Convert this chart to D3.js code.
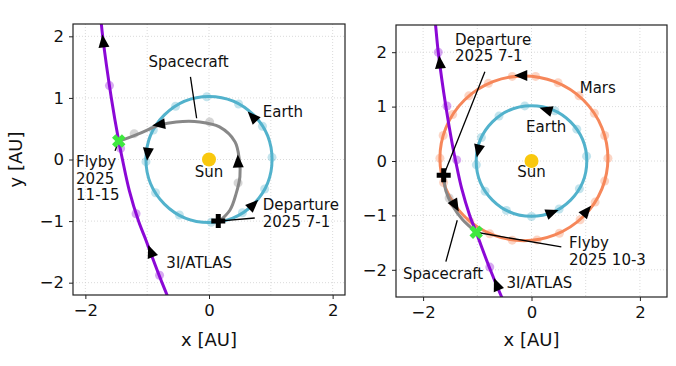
<html>
<head>
<meta charset="UTF-8">
<script src="https://d3js.org/d3.v7.min.js"></script>
<style>
  body { margin: 0; background: #fff; }
  text { font-family: "DejaVu Sans", sans-serif; }
</style>
</head>
<body></body>
<script>
// ---- data (AU) ----
var tickX = [-2, 0, 2];
var tickY = [-2, -1, 0, 1, 2];
var gridVals = [-2, -1, 0, 1, 2];

// 3I/ATLAS trajectory (same in both panels)
var atlasX = [-1.80, -1.77, -1.72, -1.58, -1.46, -1.40, -1.29, -1.14, -1.02, -0.95, -0.76, -0.55, -0.45];
var atlasY = [2.8, 2.5, 2.0, 1.0, 0.3, 0.0, -0.5, -1.0, -1.31, -1.5, -2.0, -2.5, -2.7];
var atlasDotsA = [[-1.61, 1.20], [-1.43, 0.18], [-1.18, -0.88], [-0.80, -1.88]];
var atlasDotsB = [[-1.72, 2.0], [-1.56, 1.01], [-1.38, 0.02], [-0.77, -1.95]];

// Earth orbit radius and monthly phase dots (deg)
var earthR = 1.02;
var earthPhaseA = [2, 32, 62, 92, 122, 152, 182, 212, 242, 272, 302, 332];
var earthPhaseB = [5, 35, 65, 97, 126, 155, 184, 213, 243, 270, 300, 330];

// Mars orbit (ellipse) and phase dots (deg)
var marsC = [-0.14, 0.05], marsR = [1.55, 1.52];
var marsPhase = [0, 16, 33, 49, 66, 82, 98, 115, 131, 148, 164, 180, 197, 213, 230, 246, 262, 279, 295, 312, 328, 344];

// spacecraft
var craftAX = [0.16, 0.34, 0.44, 0.50, 0.49, 0.42, 0.17, -0.15, -0.53, -0.80, -1.13, -1.45];
var craftAY = [-1.01, -0.82, -0.55, -0.28, 0.0, 0.29, 0.53, 0.61, 0.61, 0.56, 0.42, 0.30];
var craftDotsA = [[0.47, -0.38], [0.01, 0.61], [-1.21, 0.42]];
var craftBX = [-1.62, -1.58, -1.46, -1.27, -1.03];
var craftBY = [-0.27, -0.55, -0.82, -1.08, -1.30];
var craftDotsB = [[-1.52, -0.68]];

var departA = [0.15, -1.0], flybyA = [-1.46, 0.30];
var departB = [-1.62, -0.26], flybyB = [-1.02, -1.31];

// direction arrows: x, y, heading (deg)
var arrowsA = [[-1.71, 1.91, 97], [-0.94, -1.5, 111], [0.71, 0.69, 134], [-0.99, 0.10, 264],
               [0.71, -0.74, 44], [0.47, -0.04, 92], [-0.80, 0.57, 188]];
var arrowsB = [[-1.69, 1.80, 96], [-0.64, -2.28, 112], [-0.18, 1.57, 180], [1.01, -0.93, 50],
               [0.28, 0.94, 163], [-0.98, 0.20, 258], [0.37, -0.95, 21], [-1.41, -0.81, 300]];

// text labels: lines, x, y, anchor
var labelsA = [[["Spacecraft"], -0.33, 1.50, "middle"], [["Earth"], 0.87, 0.69, "start"],
               [["Sun"], 0, -0.28, "middle"], [["Departure", "2025 7-1"], 0.87, -0.82, "start"],
               [["Flyby", "2025", "11-15"], -2.15, -0.12, "start"], [["3I/ATLAS"], -0.69, -1.76, "start"]];
var labelsB = [[["Departure", "2025 7-1"], -1.41, 2.14, "start"], [["Mars"], 0.89, 1.25, "start"],
               [["Earth"], -0.10, 0.54, "start"], [["Sun"], 0, -0.29, "middle"],
               [["Flyby", "2025 10-3"], 0.69, -1.60, "start"], [["Spacecraft"], -2.37, -2.16, "start"],
               [["3I/ATLAS"], -0.46, -2.33, "start"]];
// leader lines x1,y1,x2,y2
var leadersA = [[-0.30, 1.34, -0.20, 0.67], [0.74, -0.95, 0.15, -1.0], [-1.49, 0.22, -1.52, 0.14]];
var leadersB = [[-0.86, 1.64, -1.62, -0.26], [0.55, -1.58, -1.02, -1.31], [-1.58, -1.85, -1.37, -1.09]];

var C = { earth: "#52b2cc", mars: "#f6875a", atlas: "#8b08d6", craft: "#888888",
          sun: "#f9c80e", flyby: "#3fe83f" };

var svg = d3.select("body").append("svg").attr("width", 676).attr("height", 366);

function panel(id, box, lim, opt) {
  var x = d3.scaleLinear().domain([-lim, lim]).range([box.left, box.left + box.w]);
  var y = d3.scaleLinear().domain([-lim, lim]).range([box.top + box.h, box.top]);
  var g = svg.append("g");

  svg.append("clipPath").attr("id", id)
    .append("rect").attr("x", box.left).attr("y", box.top).attr("width", box.w).attr("height", box.h);

  // grid
  var grid = g.append("g").attr("stroke", "#d0d0d0").attr("stroke-width", 0.8).attr("stroke-dasharray", "1,2");
  grid.selectAll(".gx").data(gridVals).enter().append("line")
    .attr("x1", d => x(d)).attr("x2", d => x(d)).attr("y1", box.top).attr("y2", box.top + box.h);
  grid.selectAll(".gy").data(gridVals).enter().append("line")
    .attr("y1", d => y(d)).attr("y2", d => y(d)).attr("x1", box.left).attr("x2", box.left + box.w);

  var plot = g.append("g").attr("clip-path", "url(#" + id + ")");
  var line = d3.line().x(d => x(d[0])).y(d => y(d[1])).curve(d3.curveCatmullRom);

  // orbits
  plot.append("circle").attr("cx", x(0)).attr("cy", y(0)).attr("r", x(earthR) - x(0))
    .attr("fill", "none").attr("stroke", C.earth).attr("stroke-width", 3);
  plot.selectAll(".ed").data(opt.earthPhase).enter().append("circle")
    .attr("cx", d => x(earthR * Math.cos(d * Math.PI / 180)))
    .attr("cy", d => y(earthR * Math.sin(d * Math.PI / 180)))
    .attr("r", 4.5).attr("fill", C.earth).attr("opacity", 0.35);

  if (opt.mars) {
    plot.append("ellipse").attr("cx", x(marsC[0])).attr("cy", y(marsC[1]))
      .attr("rx", x(marsR[0]) - x(0)).attr("ry", x(marsR[1]) - x(0))
      .attr("fill", "none").attr("stroke", C.mars).attr("stroke-width", 3);
    plot.selectAll(".md").data(marsPhase).enter().append("circle")
      .attr("cx", d => x(marsC[0] + marsR[0] * Math.cos(d * Math.PI / 180)))
      .attr("cy", d => y(marsC[1] + marsR[1] * Math.sin(d * Math.PI / 180)))
      .attr("r", 4.5).attr("fill", C.mars).attr("opacity", 0.35);
  }

  // spacecraft
  plot.append("path").attr("d", line(d3.zip(opt.craftX, opt.craftY)))
    .attr("fill", "none").attr("stroke", C.craft).attr("stroke-width", 3);
  plot.selectAll(".cd").data(opt.craftDots).enter().append("circle")
    .attr("cx", d => x(d[0])).attr("cy", d => y(d[1])).attr("r", 4.5)
    .attr("fill", C.craft).attr("opacity", 0.35);

  // 3I/ATLAS
  plot.append("path").attr("d", line(d3.zip(atlasX, atlasY)))
    .attr("fill", "none").attr("stroke", C.atlas).attr("stroke-width", 3);
  plot.selectAll(".ad").data(opt.atlasDots).enter().append("circle")
    .attr("cx", d => x(d[0])).attr("cy", d => y(d[1])).attr("r", 4.5)
    .attr("fill", C.atlas).attr("opacity", 0.35);

  // sun
  plot.append("circle").attr("cx", x(0)).attr("cy", y(0)).attr("r", 7).attr("fill", C.sun);

  // arrows
  plot.selectAll(".ar").data(opt.arrows).enter().append("path")
    .attr("d", "M7.5,0L-5.5,-5.5L-5.5,5.5Z").attr("fill", "#000")
    .attr("transform", d => "translate(" + x(d[0]) + "," + y(d[1]) + ") rotate(" + (-d[2]) + ")");

  // leaders
  plot.selectAll(".ld").data(opt.leaders).enter().append("line")
    .attr("x1", d => x(d[0])).attr("y1", d => y(d[1])).attr("x2", d => x(d[2])).attr("y2", d => y(d[3]))
    .attr("stroke", "#000").attr("stroke-width", 1.3);

  // departure (filled plus) and flyby (X)
  var plus = "M-2.5,-7H2.5V-2.5H7V2.5H2.5V7H-2.5V2.5H-7V-2.5H-2.5Z";
  plot.append("path").attr("d", plus).attr("fill", "#000")
    .attr("transform", "translate(" + x(opt.depart[0]) + "," + y(opt.depart[1]) + ")");
  plot.append("path").attr("d", plus).attr("fill", C.flyby)
    .attr("transform", "translate(" + x(opt.flyby[0]) + "," + y(opt.flyby[1]) + ") rotate(45)");

  // labels
  opt.labels.forEach(function (l) {
    var t = g.append("text").attr("x", x(l[1])).attr("y", y(l[2]))
      .attr("text-anchor", l[3]).attr("font-size", 15).attr("fill", "#111");
    l[0].forEach(function (s, i) {
      t.append("tspan").attr("x", x(l[1])).attr("dy", i === 0 ? 0 : 16.8).text(s);
    });
  });

  // frame
  g.append("rect").attr("x", box.left).attr("y", box.top).attr("width", box.w).attr("height", box.h)
    .attr("fill", "none").attr("stroke", "#222").attr("stroke-width", 1.2);

  // axes
  var ax = g.append("g").attr("transform", "translate(0," + (box.top + box.h) + ")")
    .call(d3.axisBottom(x).tickValues(tickX).tickSize(4).tickPadding(5).tickFormat(d3.format("")));
  var ay = g.append("g").attr("transform", "translate(" + box.left + ",0)")
    .call(d3.axisLeft(y).tickValues(tickY).tickSize(4).tickPadding(5).tickFormat(d3.format("")));
  [ax, ay].forEach(function (a) {
    a.select(".domain").remove();
    a.selectAll("text").attr("font-size", 16.5).attr("font-family", "DejaVu Sans").attr("fill", "#111");
    a.selectAll("line").attr("stroke", "#222");
  });

  g.append("text").attr("x", box.left + box.w / 2).attr("y", 346).attr("text-anchor", "middle")
    .attr("font-size", 18).attr("fill", "#111").text("x [AU]");
  if (opt.ylabel) {
    g.append("text").attr("transform", "translate(22," + (box.top + box.h / 2) + ") rotate(-90)")
      .attr("text-anchor", "middle").attr("font-size", 18).attr("fill", "#111").text("y [AU]");
  }
}

panel("clipA", { left: 73, top: 24, w: 272, h: 271 }, 2.2, {
  earthPhase: earthPhaseA, mars: false, craftX: craftAX, craftY: craftAY, craftDots: craftDotsA,
  atlasDots: atlasDotsA, arrows: arrowsA, leaders: leadersA, depart: departA, flyby: flybyA,
  labels: labelsA, ylabel: true
});
panel("clipB", { left: 396, top: 25, w: 271, h: 272 }, 2.5, {
  earthPhase: earthPhaseB, mars: true, craftX: craftBX, craftY: craftBY, craftDots: craftDotsB,
  atlasDots: atlasDotsB, arrows: arrowsB, leaders: leadersB, depart: departB, flyby: flybyB,
  labels: labelsB, ylabel: false
});
</script>
</html>
